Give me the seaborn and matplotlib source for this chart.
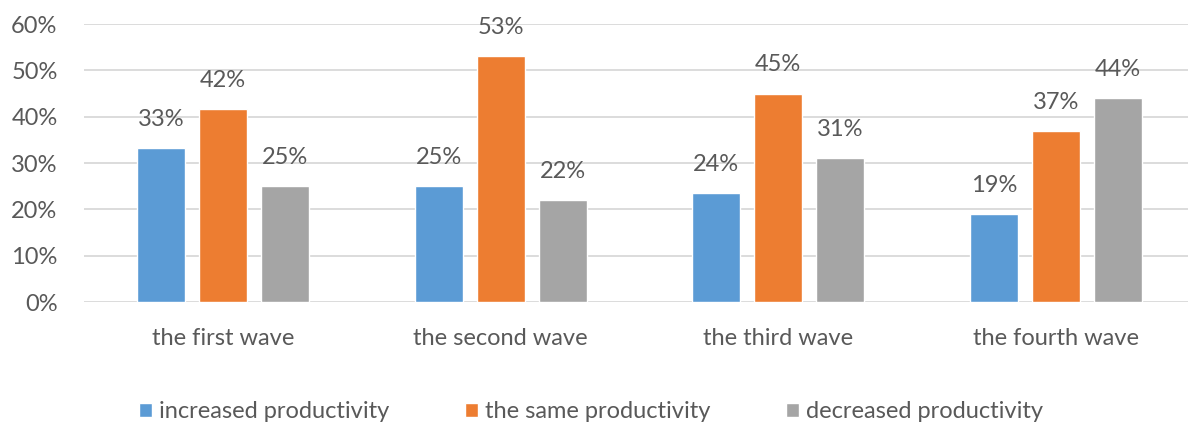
import matplotlib
matplotlib.use("Agg")
import matplotlib.pyplot as plt
import seaborn as sns
import pandas as pd
from matplotlib.ticker import PercentFormatter

waves = ["the first wave", "the second wave", "the third wave", "the fourth wave"]
series = ["increased productivity", "the same productivity", "decreased productivity"]
increased = [33.3, 25.0, 23.5, 19.0]
same = [41.7, 53.0, 45.0, 37.0]
decreased = [25.0, 22.0, 31.0, 44.0]
colors = ["#5B9BD5", "#ED7D31", "#A5A5A5"]

rows = []
for s, vals in zip(series, [increased, same, decreased]):
    for w, v in zip(waves, vals):
        rows.append({"wave": w, "series": s, "value": v})
df = pd.DataFrame(rows)

sns.set_theme(style="white")
plt.rcParams['font.family'] = ['Lato', 'DejaVu Sans']
txt = "#595959"
fs = 17

fig = plt.figure(figsize=(11.88, 4.25), dpi=100)
ax = fig.add_axes([84/1188, 0.2894, 1104/1188, 0.6541])
sns.barplot(data=df, x="wave", y="value", hue="series", palette=colors,
            width=0.67, gap=0.226, ax=ax, legend=True, saturation=1)

ax.set_ylim(0, 60)
ax.set_yticks(range(0, 61, 10))
ax.yaxis.set_major_formatter(PercentFormatter(decimals=0))
ax.yaxis.grid(True, color="#D9D9D9", linewidth=1.3)
ax.set_axisbelow(True)
for sp in ax.spines.values():
    sp.set_visible(False)
ax.set_xlabel("")
ax.set_ylabel("")
ax.tick_params(axis="y", labelsize=fs, labelcolor=txt, length=0, pad=19)
ax.tick_params(axis="x", labelsize=fs, labelcolor=txt, length=0, pad=19)
ax.set_xlim(-0.5, -0.5 + 1104/277.7)

for cont in ax.containers:
    ax.bar_label(cont, labels=[f"{round(b.get_height()):.0f}%" for b in cont],
                 padding=13, fontsize=fs, color=txt)

leg = ax.legend(loc="center", bbox_to_anchor=(0.459, -0.395), ncol=3,
                frameon=False, fontsize=fs, handlelength=0.55, handleheight=0.55,
                handletextpad=0.3, columnspacing=3.2)
for t in leg.get_texts():
    t.set_color(txt)

fig.savefig("out.png", dpi=100)
